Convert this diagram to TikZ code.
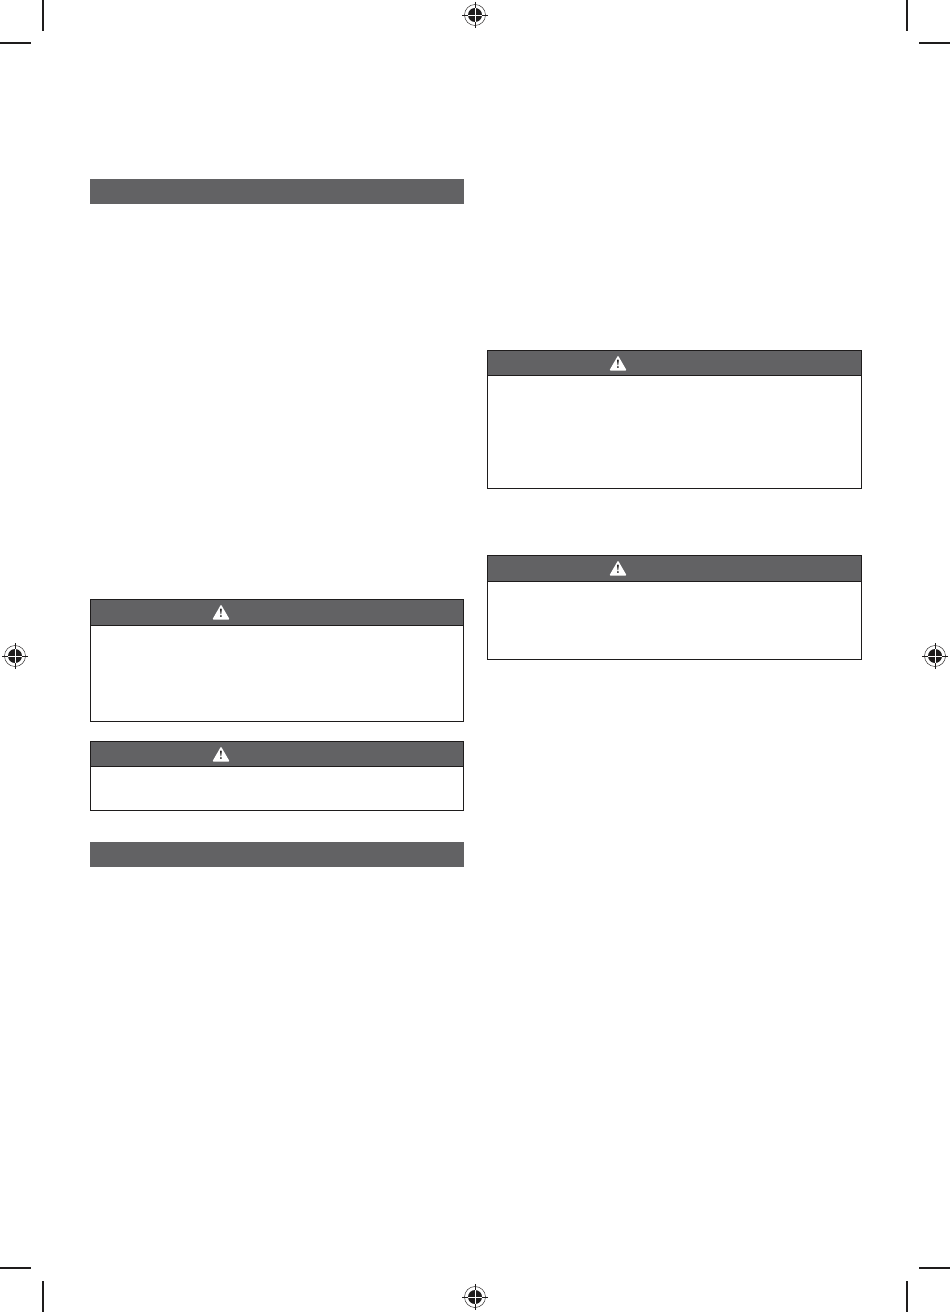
\documentclass[tikz,border=0pt]{standalone}
\usetikzlibrary{shapes.geometric}
\definecolor{bargray}{RGB}{98,98,100}
\definecolor{markblack}{RGB}{30,28,28}
\tikzset{
    sectionbar/.style={fill=bargray},
    headbar/.style={fill=bargray, draw=markblack, line width=0.6pt},
    boxline/.style={draw=markblack, line width=0.7pt},
    cropline/.style={draw=markblack, line width=0.8pt},
    warnsign/.style={regular polygon, regular polygon sides=3, fill=white, draw=white, line join=round, line width=1pt,
        inner sep=0pt, minimum size=13pt},
}
\begin{document}
\begin{tikzpicture}[x=0.75pt, y=-0.75pt]
    \useasboundingbox (0,0) rectangle (950,1312);

    % section bars
    \fill[sectionbar] (90,179) rectangle (463.5,204);
    \fill[sectionbar] (90,842) rectangle (463.5,867);

    % warning boxes, left column
    \draw[boxline] (90.5,599.5) rectangle (463.5,721);
    \draw[headbar] (90.5,599.5) rectangle (463.5,625);
    \node[warnsign] (signa) at (221,614.5) {};
    \draw[boxline] (90.5,741.5) rectangle (463.5,810);
    \draw[headbar] (90.5,741.5) rectangle (463.5,766);
    \node[warnsign] (signb) at (221,756.5) {};

    % warning boxes, right column
    \draw[boxline] (487.5,350.5) rectangle (861,488.5);
    \draw[headbar] (487.5,350.5) rectangle (861,375);
    \node[warnsign] (signc) at (618,365.5) {};
    \draw[boxline] (487.5,555.5) rectangle (861,659.5);
    \draw[headbar] (487.5,555.5) rectangle (861,581);
    \node[warnsign] (signd) at (618,570.5) {};

    % exclamation marks
    \foreach \sign in {signa,signb,signc,signd} {
        \node[font=\bfseries\small, text=markblack, inner sep=0pt] (\sign mark) at ([yshift=0.6pt]\sign.center) {!};
    }

    % crop marks
    \draw[cropline] (43,0) -- (43,31);
    \draw[cropline] (0,43) -- (31,43);
    \draw[cropline] (907,0) -- (907,31);
    \draw[cropline] (919,43) -- (950,43);
    \draw[cropline] (43,1281) -- (43,1312);
    \draw[cropline] (0,1268) -- (31,1268);
    \draw[cropline] (907,1281) -- (907,1312);
    \draw[cropline] (919,1268) -- (950,1268);

    % registration marks
    \foreach \cx/\cy in {475/15, 15/656, 935/656, 475/1297} {
        \draw[markblack, line width=0.35pt] (\cx,\cy) circle[radius=10.5];
        \fill[markblack] (\cx,\cy) circle[radius=7];
        \draw[markblack, line width=0.6pt] (\cx-13,\cy) -- (\cx+13,\cy);
        \draw[markblack, line width=0.6pt] (\cx,\cy-13) -- (\cx,\cy+13);
        \draw[white, line width=0.2pt] (\cx-7,\cy) -- (\cx+7,\cy);
        \draw[white, line width=0.2pt] (\cx,\cy-7) -- (\cx,\cy+7);
    }
\end{tikzpicture}
\end{document}
